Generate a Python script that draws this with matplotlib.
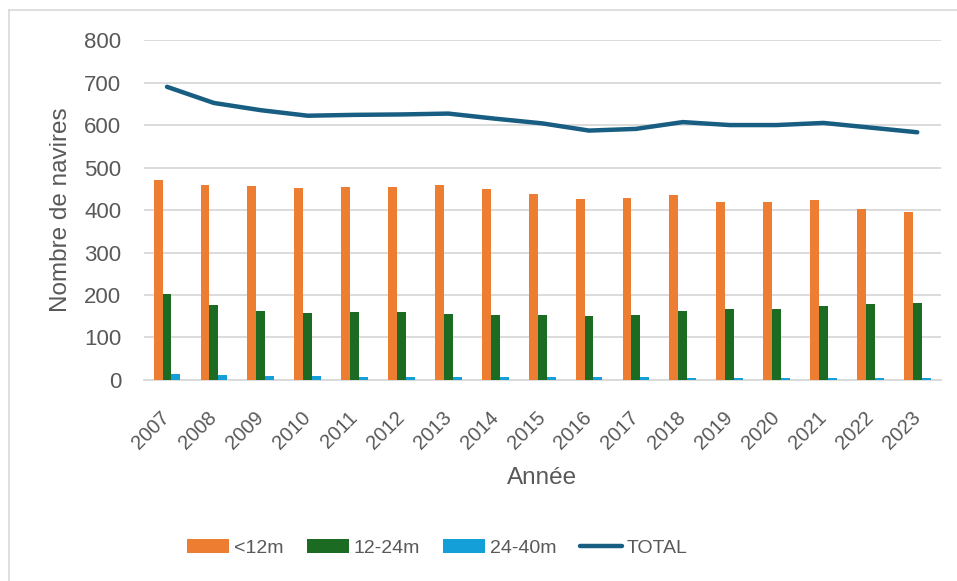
import matplotlib.pyplot as plt
import numpy as np
from matplotlib.lines import Line2D

years = [str(y) for y in range(2007, 2024)]
moins_12m = [471, 460, 457, 451, 454, 454, 460, 449, 438, 426, 429, 435, 419, 420, 423, 402, 395]
de_12_24m = [202, 176, 163, 158, 160, 161, 156, 153, 153, 151, 154, 162, 167, 167, 174, 178, 180]
de_24_40m = [14, 12, 9, 9, 8, 7, 7, 6, 6, 6, 6, 5, 5, 5, 5, 5, 5]
total = [690, 652, 635, 622, 624, 625, 627, 615, 604, 587, 591, 607, 600, 600, 605, 594, 583]

plt.rcParams["font.family"] = ["Liberation Sans", "DejaVu Sans"]
txt = "#595959"

fig = plt.figure(figsize=(9.57, 5.81), dpi=100)
ax = fig.add_axes([0.150, 0.346, 0.833, 0.585])

x = np.arange(len(years))
w = 0.19
ax.bar(x - w, moins_12m, w, color="#ED7D31", label="<12m", zorder=3)
ax.bar(x, de_12_24m, w, color="#1B6B22", label="12-24m", zorder=3)
ax.bar(x + w, de_24_40m, w, color="#149FD8", label="24-40m", zorder=3)
ax.plot(x, total, color="#175E82", lw=3.2, solid_capstyle="round",
        label="TOTAL", zorder=4)

ax.set_xlim(-0.5, len(years) - 0.5)
ax.set_ylim(0, 800)
ax.set_yticks(range(0, 801, 100))
ax.yaxis.grid(True, color="#D9D9D9", lw=1.3, zorder=0)
for s in ["top", "right", "left"]:
    ax.spines[s].set_visible(False)
ax.spines["bottom"].set_color("#D9D9D9")
ax.spines["bottom"].set_linewidth(1.3)
ax.tick_params(axis="both", length=0, labelcolor=txt)
ax.tick_params(axis="y", labelsize=16, pad=16)
ax.set_xticks(x)
ax.set_xticklabels(years, rotation=45, ha="right", va="center",
                   rotation_mode="anchor")
ax.tick_params(axis="x", labelsize=14.5, pad=25)

ax.set_ylabel("Nombre de navires", fontsize=17.5, color=txt, labelpad=9)
ax.set_xlabel("Année", fontsize=17.5, color=txt, labelpad=10)

handles, labels = ax.get_legend_handles_labels()
order = [1, 2, 3, 0]
leg = fig.legend([handles[i] for i in order], [labels[i] for i in order],
                 loc="center", bbox_to_anchor=(0.457, 0.057), ncol=4,
                 frameon=False, fontsize=14, handlelength=2.15,
                 handleheight=0.75, columnspacing=1.2, handletextpad=0.25)
for t in leg.get_texts():
    t.set_color(txt)

# chart frame (cropped on right and bottom)
fig.add_artist(Line2D([9 / 957, 9 / 957], [0, 1 - 10 / 581],
                      transform=fig.transFigure, color="#D9D9D9", lw=1.2))
fig.add_artist(Line2D([9 / 957, 1], [1 - 10 / 581, 1 - 10 / 581],
                      transform=fig.transFigure, color="#D9D9D9", lw=1.2))

fig.savefig("out.png", dpi=100)
